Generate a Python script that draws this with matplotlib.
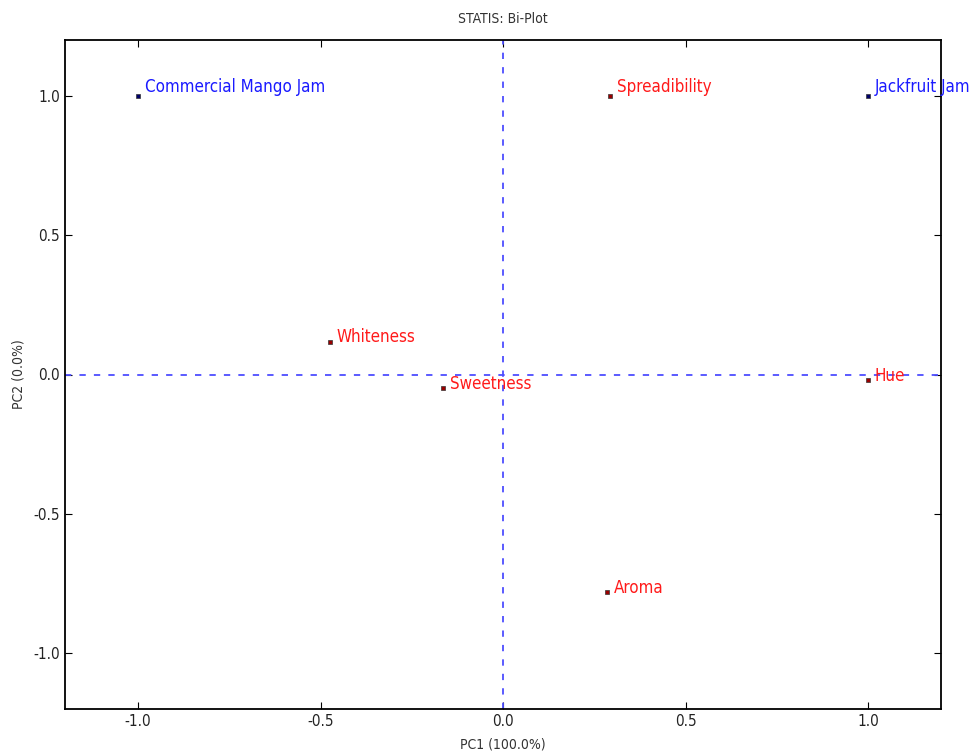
import numpy as np
import matplotlib
matplotlib.use("Agg")
import matplotlib.pyplot as plt

plt.rcParams['font.stretch'] = 'condensed'

obs_names = ["Commercial Mango Jam", "Jackfruit Jam"]
obs_x = [-1.0, 1.0]
obs_y = [1.0, 1.0]

var_names = ["Spreadibility", "Whiteness", "Sweetness", "Hue", "Aroma"]
var_x = [0.292, -0.475, -0.164, 1.0, 0.284]
var_y = [1.0, 0.118, -0.050, -0.02, -0.781]

xticks = [-1.0, -0.5, 0.0, 0.5, 1.0]
yticks = [-1.0, -0.5, 0.0, 0.5, 1.0]

fig = plt.figure(figsize=(9.74, 7.51), dpi=100)
ax = fig.add_axes([65/974, 1 - 709/751, 876/974, 669/751])

ax.axhline(0, color="#4d4dff", ls="--", lw=1.3, dashes=(3.5, 4.5))
ax.axvline(0, color="#4d4dff", ls="--", lw=1.3, dashes=(3.5, 4.5))

ax.plot(obs_x, obs_y, "s", color="#000066", ms=3.2, mec="#333333", mew=0.5, ls="none")
ax.plot(var_x, var_y, "s", color="#990000", ms=3.2, mec="#333333", mew=0.5, ls="none")

for n, x, y in zip(obs_names, obs_x, obs_y):
    ax.annotate(n, (x, y), xytext=(5, 2.5), textcoords="offset points",
                color="#1a1aff", fontsize=12.2,
                va="baseline", ha="left", annotation_clip=False)
for n, x, y in zip(var_names, var_x, var_y):
    y_off = 2.5 if y >= 0.99 else -0.5
    ax.annotate(n, (x, y), xytext=(5, y_off), textcoords="offset points",
                color="#ff1a1a", fontsize=12.2,
                va="baseline", ha="left", annotation_clip=False)

ax.set_xlim(-1.2, 1.2)
ax.set_ylim(-1.2, 1.2)
ax.set_xticks(xticks)
ax.set_yticks(yticks)
ax.set_xticklabels(["%.1f" % t for t in xticks])
ax.set_yticklabels(["%.1f" % t for t in yticks])
ax.tick_params(direction="in", top=True, right=True, length=5, labelsize=11,
               labelcolor="#222222")
for s in ax.spines.values():
    s.set_linewidth(1.3)

ax.set_xlabel("PC1 (100.0%)", fontsize=10, labelpad=6, color="#333333")
ax.set_ylabel("PC2 (0.0%)", fontsize=10, labelpad=6, color="#333333")
ax.set_title("STATIS: Bi-Plot", fontsize=10, pad=12, color="#333333")

fig.savefig("out.png", dpi=100)
